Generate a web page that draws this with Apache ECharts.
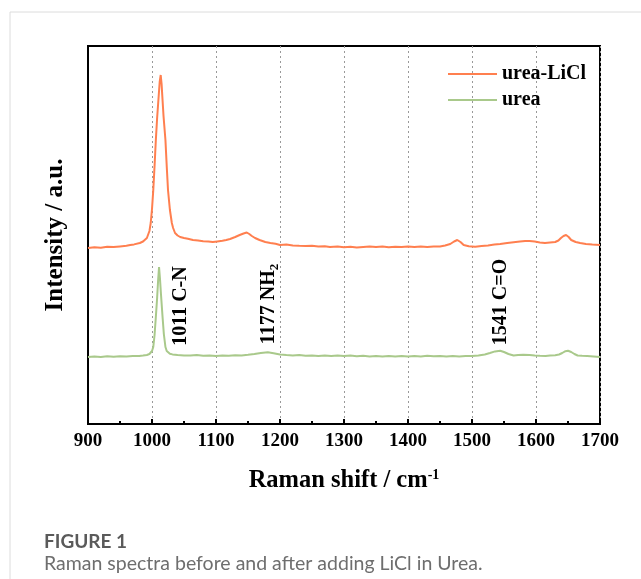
<!DOCTYPE html>
<html>
<head>
<meta charset="utf-8">
<script src="https://cdn.jsdelivr.net/npm/echarts@6/dist/echarts.min.js"></script>
<style>
html, body { margin: 0; padding: 0; background: #fff; }
#main { width: 641px; height: 579px; }
</style>
</head>
<body>
<div id="main"></div>
<script>
// 横轴刻度
var shiftTicks = [900, 1000, 1100, 1200, 1300, 1400, 1500, 1600, 1700];
var seriesNames = ['urea-LiCl', 'urea'];

// urea-LiCl 光谱 [波数, 强度]
var ureaLiCl = [
  [900,176],[910,176.8],[920,176.3],[930,177.2],[940,176.9],[950,177.6],[960,178.2],[966,179],[972,179.6],
  [981,181],[986,182.5],[989,184],[992,186],[994,188],[996,193],[998,201],[1000,215],[1002,234],[1004,258],
  [1006,284],[1008,306],[1010,324],[1012,342],[1013.6,349],[1015,340],[1016,329],[1018,308],[1021,284],
  [1023,258],[1025,234],[1028,214],[1031,201],[1033,196],[1036,191],[1040,188.5],[1044,187],[1050,186],
  [1056,185.2],[1064,184],[1072,183.6],[1080,182.8],[1088,182.5],[1095,182],[1102,182.6],[1110,183.2],
  [1116,184],[1122,185],[1130,187],[1137,189],[1143,190.5],[1148,191.5],[1152,190],[1156,188],[1161,186],
  [1168,184],[1177,182],[1185,181],[1193,180.2],[1200,179],[1210,179.4],[1220,178.6],[1230,178.2],
  [1240,177.9],[1250,178.3],[1260,177.4],[1270,177.8],[1278,177],[1290,177.5],[1300,176.8],[1310,177.3],
  [1320,176.6],[1330,177.1],[1340,177.6],[1350,176.9],[1360,177.4],[1370,176.7],[1380,177.2],[1390,177],
  [1400,177.6],[1410,176.9],[1420,177.5],[1430,177],[1440,177.6],[1450,177.5],[1458,178.5],[1466,180],
  [1472,182.5],[1477,184],[1482,182],[1487,179],[1495,177.8],[1505,177.2],[1515,178],[1525,178.6],
  [1535,179.4],[1544,180],[1555,181],[1565,181.8],[1575,182.5],[1583,183],[1590,183],[1598,182.4],
  [1606,181.6],[1614,181],[1622,181.5],[1630,182],[1635,183.5],[1639,186],[1643,188],[1647,189],
  [1651,187],[1655,184],[1662,182],[1669,181],[1678,180],[1688,179.5],[1700,179]
];

// urea 光谱 [波数, 强度]
var urea = [
  [900,67],[910,67.6],[920,67.1],[930,67.8],[940,67.3],[950,67.7],[960,67.4],[970,67.9],[980,68],
  [986,68.4],[992,69],[996,70],[998,71],[1000,73],[1002,77],[1004,89],[1006,107],[1008,126],[1009.5,143],
  [1011,157],[1012.5,145],[1014,130],[1016.5,107],[1018.5,90],[1021,77],[1023,73],[1025,71],[1028,70.3],
  [1032,69.6],[1040,69],[1050,68.6],[1060,68.5],[1070,68.9],[1080,68.2],[1090,68.6],[1100,68],[1110,68.5],
  [1120,68.2],[1130,68.7],[1140,68.6],[1150,69.2],[1160,70],[1170,71],[1181,71.7],[1190,70.8],[1200,69.5],
  [1210,68.9],[1220,68.5],[1230,68.9],[1240,68.2],[1250,68.6],[1260,68],[1270,68.5],[1280,67.9],[1290,68.4],
  [1300,68],[1310,68.4],[1320,67.7],[1330,68.2],[1340,67.6],[1350,68.1],[1360,67.5],[1370,68],[1380,67.6],
  [1390,68.1],[1400,67.5],[1410,68],[1420,67.6],[1430,68.2],[1440,67.8],[1450,68],[1460,67.6],[1470,67.9],
  [1480,67.5],[1490,67.9],[1500,68],[1510,68.4],[1520,69.5],[1528,71],[1536,72.6],[1544,73.3],[1550,72],
  [1557,70],[1565,68.5],[1572,68.9],[1580,69.3],[1590,69],[1598,68.6],[1606,68.3],[1615,68],[1622,68.4],
  [1630,68.8],[1636,69.5],[1641,71],[1646,72.8],[1650,73.3],[1655,72],[1660,70],[1665,68.5],[1672,68.2],
  [1680,68],[1690,67.6],[1700,67]
];

// 峰位标注 [波数, 强度, 文字]
var peakLabels = [
  [1045, 118, '{t|1011 C-N}'],
  [1183, 120, '{t|1177 NH}{s|2}'],
  [1545, 122, '{t|1541 C=O}']
];

var serif = '"Liberation Serif", "Times New Roman", serif';

var chart = echarts.init(document.getElementById('main'));
var option = {
  animation: false,
  textStyle: { fontFamily: serif },
  color: ['#ff7f4f', '#a9c98b'],
  grid: {
    left: 88,
    right: 41,
    top: 46,
    bottom: 155,
    show: true,
    borderColor: '#000',
    borderWidth: 2
  },
  legend: {
    data: seriesNames,
    orient: 'vertical',
    left: 443,
    top: 59,
    icon: 'rect',
    itemWidth: 49,
    itemHeight: 2,
    itemGap: 6,
    textStyle: { fontFamily: serif, fontWeight: 'bold', fontSize: 20, color: '#000' }
  },
  xAxis: {
    type: 'value',
    min: shiftTicks[0],
    max: shiftTicks[shiftTicks.length - 1],
    interval: 100,
    name: '{a|Raman shift / cm}{b|-1}',
    nameLocation: 'middle',
    nameGap: 44,
    nameTextStyle: {
      rich: {
        a: { fontFamily: serif, fontWeight: 'bold', fontSize: 24.5, color: '#000', lineHeight: 26 },
        b: { fontFamily: serif, fontWeight: 'bold', fontSize: 14, color: '#000', verticalAlign: 'top', lineHeight: 26 }
      }
    },
    axisLine: { lineStyle: { color: '#000', width: 2 } },
    axisTick: { inside: true, length: 5, lineStyle: { color: '#000', width: 2 } },
    minorTick: { show: true, splitNumber: 2, length: 3, lineStyle: { color: '#000', width: 2 } },
    axisLabel: {
      fontFamily: serif, fontWeight: 'bold', fontSize: 19, color: '#000', margin: 8,
      formatter: function (v) { return String(v); }
    },
    splitLine: { show: true, lineStyle: { color: '#999', type: [2, 3], width: 1 } }
  },
  yAxis: {
    type: 'value',
    min: 0,
    max: 378,
    name: 'Intensity / a.u.',
    nameLocation: 'middle',
    nameGap: 20,
    nameTextStyle: { fontFamily: serif, fontWeight: 'bold', fontSize: 25, color: '#000' },
    axisLine: { show: true, lineStyle: { color: '#000', width: 2 } },
    axisTick: { show: false },
    axisLabel: { show: false },
    splitLine: { show: false }
  },
  graphic: [
    {
      type: 'rect',
      shape: { x: 10, y: 12, width: 700, height: 700 },
      style: { fill: 'none', stroke: '#dcdcdc', lineWidth: 1 }
    },
    {
      type: 'text',
      left: 44,
      top: 532,
      style: { text: 'FIGURE 1', fontFamily: 'Lato, "Open Sans", sans-serif', fontWeight: 'bold', fontSize: 19, fill: '#5a5a5a' }
    },
    {
      type: 'text',
      left: 44,
      top: 554,
      style: { text: 'Raman spectra before and after adding LiCl in Urea.', fontFamily: 'Lato, "Open Sans", sans-serif', fontSize: 19.5, fill: '#6e6e6e' }
    }
  ],
  series: [
    {
      name: seriesNames[0],
      type: 'line',
      data: ureaLiCl,
      showSymbol: false,
      lineStyle: { width: 2 },
      z: 3
    },
    {
      name: seriesNames[1],
      type: 'line',
      data: urea,
      showSymbol: false,
      lineStyle: { width: 2 },
      z: 3,
      markPoint: {
        symbol: 'rect',
        symbolSize: 0,
        silent: true,
        label: {
          show: true,
          position: 'inside',
          rotate: 90,
          formatter: function (p) { return p.name; },
          rich: {
            t: { fontFamily: serif, fontWeight: 'bold', fontSize: 20, color: '#000' },
            s: { fontFamily: serif, fontWeight: 'bold', fontSize: 13, color: '#000', verticalAlign: 'bottom', lineHeight: 24 }
          }
        },
        data: peakLabels.map(function (d) {
          return { name: d[2], coord: [d[0], d[1]] };
        })
      }
    }
  ]
};
chart.setOption(option);

window.onresize = function () {
  chart.resize();
};
</script>
</body>
</html>
